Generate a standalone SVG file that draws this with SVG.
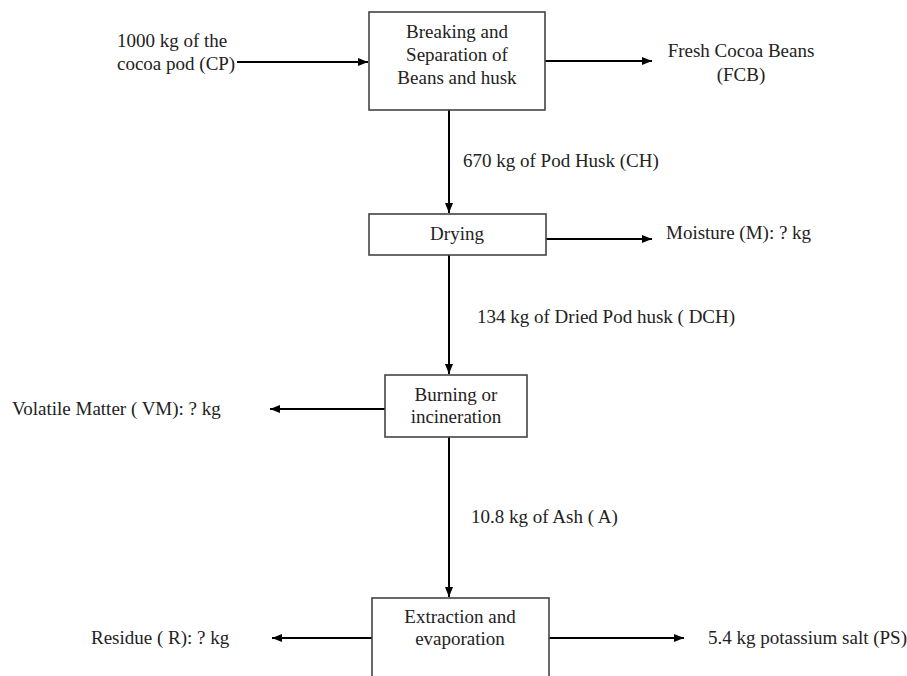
<svg xmlns="http://www.w3.org/2000/svg" width="907" height="676" viewBox="0 0 907 676">
<defs>
<marker id="ah" markerWidth="10" markerHeight="8" refX="10" refY="4" orient="auto" markerUnits="userSpaceOnUse">
<path d="M0,0 L10,4 L0,8 Z" fill="#000"/>
</marker>
<style>
.box{fill:#fff;stroke:#444;stroke-width:1.6}
.c{stroke:#000;stroke-width:2;fill:none;marker-end:url(#ah)}
text{font-family:"Liberation Serif","Times New Roman",serif;font-size:19px;fill:#222}
.m{text-anchor:middle}
</style>
</defs>
<rect width="907" height="676" fill="#fff"/>
<g id="connectors">
<line class="c" x1="237" y1="62" x2="368" y2="62"/>
<line class="c" x1="545" y1="61" x2="652" y2="61"/>
<line class="c" x1="449" y1="110" x2="449" y2="213"/>
<line class="c" x1="546" y1="239" x2="652" y2="239"/>
<line class="c" x1="449" y1="255" x2="449" y2="374"/>
<line class="c" x1="385" y1="409" x2="270" y2="409"/>
<line class="c" x1="449" y1="437" x2="449" y2="597"/>
<line class="c" x1="372" y1="638" x2="272" y2="638"/>
<line class="c" x1="549" y1="638" x2="684" y2="638"/>
</g>
<g id="input-cp">
<text x="117" y="47">1000 kg of the</text>
<text x="117" y="70">cocoa pod (CP)</text>
</g>
<g id="breaking">
<rect class="box" x="369" y="12" width="176" height="98"/>
<text class="m" x="457" y="38">Breaking and</text>
<text class="m" x="457" y="61">Separation of</text>
<text class="m" x="457" y="84">Beans and husk</text>
</g>
<g id="fcb">
<text class="m" x="741" y="57">Fresh Cocoa Beans</text>
<text class="m" x="741" y="81">(FCB)</text>
</g>
<g id="label-ch"><text x="463" y="167">670 kg of Pod Husk (CH)</text></g>
<g id="drying">
<rect class="box" x="369" y="214" width="177" height="41"/>
<text class="m" x="457" y="240">Drying</text>
</g>
<g id="moisture"><text x="666" y="239">Moisture (M): ? kg</text></g>
<g id="label-dch"><text x="477" y="323">134 kg of Dried Pod husk ( DCH)</text></g>
<g id="burning">
<rect class="box" x="385" y="375" width="142" height="62"/>
<text class="m" x="456" y="401">Burning or</text>
<text class="m" x="456" y="423">incineration</text>
</g>
<g id="vm"><text x="12" y="415">Volatile Matter ( VM): ? kg</text></g>
<g id="label-ash"><text x="471" y="523">10.8 kg of Ash ( A)</text></g>
<g id="extraction">
<rect class="box" x="372" y="598" width="177" height="100"/>
<text class="m" x="460" y="623">Extraction and</text>
<text class="m" x="460" y="645">evaporation</text>
</g>
<g id="residue"><text x="91" y="644">Residue ( R): ? kg</text></g>
<g id="ps"><text x="708" y="644">5.4 kg potassium salt (PS)</text></g>
</svg>
